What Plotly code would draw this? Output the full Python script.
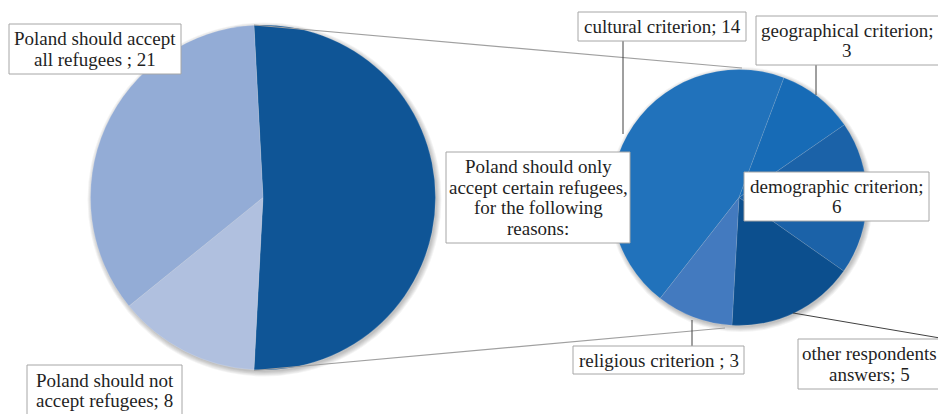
import plotly.graph_objects as go

W, H = 938, 414

# Main pie: attitude towards accepting refugees
main_labels = ["Poland should only accept certain refugees, for the following reasons:",
               "Poland should not accept refugees",
               "Poland should accept all refugees"]
main_values = [31, 8, 21]
main_colors = ["#0f5596", "#b0c0df", "#93acd6"]

# Secondary pie: breakdown of the "certain refugees" answers
sub_labels = ["cultural criterion", "geographical criterion", "demographic criterion",
              "other respondents answers", "religious criterion"]
sub_values = [14, 3, 6, 5, 3]
sub_colors = ["#2172bb", "#176bb6", "#1b62a8", "#0c4f8e", "#437abf"]

FONT = "'Liberation Serif', 'Times New Roman', 'DejaVu Serif', serif"


def px(x):
    return x / W


def py(y):
    return 1 - y / H


def domain(cx, cy, r):
    return dict(x=[px(cx - r), px(cx + r)], y=[py(cy + r), py(cy - r)])


LEFT = (263, 197.5, 172.5)
RIGHT = (739, 197.5, 128)

fig = go.Figure()
fig.add_trace(go.Pie(
    labels=main_labels, values=main_values, sort=False, direction="clockwise",
    rotation=-3, textinfo="none", hoverinfo="label+value",
    marker=dict(colors=main_colors, line=dict(color="rgba(255,255,255,0.25)", width=0.6)),
    domain=domain(*LEFT), showlegend=False,
))
fig.add_trace(go.Pie(
    labels=sub_labels, values=sub_values, sort=False, direction="clockwise",
    rotation=218, textinfo="none", hoverinfo="label+value",
    marker=dict(colors=sub_colors, line=dict(color="rgba(255,255,255,0.2)", width=0.6)),
    domain=domain(*RIGHT), showlegend=False,
))

shapes = []
# soft drop shadow behind each pie
for cx, cy, r in (LEFT, RIGHT):
    for k in range(6):
        rr = r + k * 0.9
        ox, oy = 1.5, 2.0
        shapes.append(dict(type="circle", xref="paper", yref="paper", layer="below",
                           x0=px(cx + ox - rr), x1=px(cx + ox + rr),
                           y0=py(cy + oy + rr), y1=py(cy + oy - rr),
                           fillcolor="rgba(0,0,0,0.045)", line=dict(width=0)))


def seg(x0, y0, x1, y1, color, width=1.0):
    shapes.append(dict(type="line", xref="paper", yref="paper", layer="above",
                       x0=px(x0), y0=py(y0), x1=px(x1), y1=py(y1),
                       line=dict(color=color, width=width)))


# connectors between the two pies
seg(254, 25, 742, 68, "#a0a0a0", 1.2)
seg(254, 370.5, 725, 328, "#a0a0a0", 1.2)

# leader lines
seg(623, 41, 623, 134, "#404040")
seg(816, 65, 816, 95, "#404040")
seg(692, 320, 692, 346, "#404040")
seg(793, 313, 940, 338, "#404040")

# label boxes: (x0, y0, x1, y1, center x, lines)
LINE = 20.5
boxes = [
    (9, 24, 181, 74, 95, ["Poland should accept", "all refugees ; 21"]),
    (27, 365, 182, 416, 104.5, ["Poland should not", "accept refugees; 8"]),
    (446, 152, 630, 243, 538, ["Poland should only", "accept certain refugees,",
                                "for the following", "reasons:"]),
    (578, 12, 746, 41, 662, ["cultural criterion; 14"]),
    (756, 16, 940, 65, 847, ["geographical criterion;", "3"]),
    (744, 172, 929, 221, 836.5, ["demographic criterion;", "6"]),
    (573, 346, 744, 374, 658.5, ["religious criterion ; 3"]),
    (798, 339, 948, 389, 869.5, ["other respondents", "answers; 5"]),
]

annotations = []
for x0, y0, x1, y1, cx, lines in boxes:
    shapes.append(dict(type="rect", xref="paper", yref="paper", layer="above",
                       x0=px(x0), x1=px(x1), y0=py(y1), y1=py(y0),
                       fillcolor="white", line=dict(color="#a6a6a6", width=1)))
    h = y1 - y0
    top = y0 + (h - LINE * len(lines)) / 2
    for i, t in enumerate(lines):
        annotations.append(dict(xref="paper", yref="paper", x=px(cx),
                                y=py(top + LINE * (i + 0.5)), text=t, showarrow=False,
                                xanchor="center", yanchor="middle",
                                font=dict(family=FONT, size=19, color="#1f1f1f")))

fig.update_layout(
    width=W, height=H, margin=dict(l=0, r=0, t=0, b=0),
    paper_bgcolor="white", plot_bgcolor="white",
    font=dict(family=FONT),
    shapes=shapes, annotations=annotations, showlegend=False,
)

fig.write_html("out.html", config={"displayModeBar": False})
